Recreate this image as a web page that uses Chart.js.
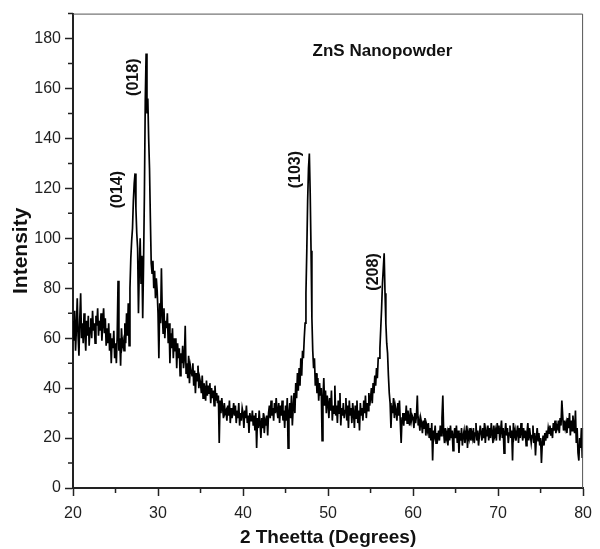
<!DOCTYPE html>
<html>
<head>
<meta charset="utf-8">
<script src="https://cdn.jsdelivr.net/npm/chart.js@4.4.1/dist/chart.umd.min.js"></script>
<style>
  html, body { margin: 0; padding: 0; background: #fff; }
  #wrap { width: 600px; height: 549px; }
</style>
</head>
<body>
<div id="wrap"><canvas id="xrdChart" width="600" height="549"></canvas></div>
<script>
// 2 theta grid: 20.0 .. 80.0 deg, step 0.1
var thetaStart = 20;
var thetaStep = 0.1;

// Intensity, one row per degree (x.0 .. x.9)
var intensity = [
  67,59,71,55,64,76,61,53,68,78,   // 20
  60,66,58,70,62,55,67,61,69,57,   // 21
  64,68,60,71,63,66,58,69,65,72,   // 22
  61,67,63,70,59,66,72,62,68,57,   // 23
  64,58,66,55,62,50,60,56,63,52,   // 24
  58,50,61,83,55,60,49,64,57,59,   // 25
  55,66,58,70,61,74,57,80,92,99,   // 26
  104,115,122,126,112,102,96,70,88,100, // 27
  82,93,68,90,118,155,174,150,156,140,  // 28
  128,108,90,86,91,80,87,76,84,79, // 29
  70,52,74,66,88,70,62,72,60,67,   // 30
  64,70,58,66,50,62,56,64,52,60,   // 31
  55,60,48,58,52,56,45,54,50,57,   // 32
  48,52,65,46,50,44,53,42,49,47,   // 33
  45,50,41,47,38,46,43,49,40,44,   // 34
  42,38,45,36,42,40,35,43,37,41,   // 35
  38,42,34,40,36,39,33,41,35,38,   // 36
  34,37,18,35,30,36,32,28,34,30,   // 37
  31,27,33,29,35,26,32,28,30,34,   // 38
  29,33,26,31,28,34,25,30,27,32,   // 39
  30,24,31,28,33,26,29,22,30,27,   // 40
  27,31,25,29,23,30,16,28,24,31,   // 41
  26,20,28,24,30,22,27,25,29,21,   // 42
  30,33,28,35,29,32,27,34,30,36,   // 43
  31,28,34,26,33,29,35,27,31,24,   // 44
  33,27,36,16,30,34,28,37,25,32,   // 45
  38,30,42,36,46,39,48,41,52,45,   // 46
  55,52,60,66,78,95,115,128,134,118, // 47
  95,68,55,48,52,41,46,38,44,35,   // 48
  42,37,40,19,36,44,33,39,30,37,   // 49
  34,28,36,31,39,27,33,30,41,29,   // 50
  33,26,35,30,38,25,32,29,34,28,   // 51
  31,36,27,33,24,35,29,32,26,34,   // 52
  30,24,33,28,35,26,31,23,34,29,   // 53
  32,27,35,30,37,28,34,31,38,33,   // 54
  36,40,34,42,38,45,41,48,44,52,   // 55
  52,56,64,72,82,88,94,78,66,58,   // 56
  54,45,38,34,24,33,30,36,28,33,   // 57
  31,27,34,29,35,26,18,28,30,25,   // 58
  30,27,33,26,31,28,25,32,27,29,   // 59
  28,24,30,26,29,37,25,27,23,28,   // 60
  26,22,27,24,28,21,25,23,26,20,   // 61
  24,19,26,11,23,21,25,18,22,20,   // 62
  23,19,25,21,28,37,22,18,24,20,   // 63
  22,17,24,19,25,20,23,15,21,24,   // 64
  20,25,18,23,14,22,19,24,17,21,   // 65
  23,18,21,25,16,22,20,24,19,22,   // 66
  20,24,18,22,26,19,23,17,21,25,   // 67
  22,19,24,20,26,18,23,21,25,19,   // 68
  24,20,26,22,18,25,21,23,19,26,   // 69
  22,25,19,23,27,20,24,14,22,26,   // 70
  21,24,18,22,25,20,23,11,26,21,   // 71
  23,19,22,25,18,24,20,26,22,19,   // 72
  24,20,23,17,22,26,19,24,21,18,   // 73
  21,25,18,22,13,20,24,19,22,17,   // 74
  20,10,18,21,17,22,19,23,20,24,   // 75
  22,25,21,24,20,26,23,27,22,25,   // 76
  24,27,22,28,25,35,29,23,27,24,   // 77
  26,22,28,24,30,21,27,23,29,25,   // 78
  22,31,18,24,14,11,20,16,24,12,   // 79
  24                               // 80
];

// peak indices and where their labels sit (data units, top of text)
var peakNames = ['(014)', '(018)', '(103)', '(208)'];
var peakLabelTheta = [25.28, 27.18, 46.22, 55.31];
var peakLabelTop = [127, 172, 135, 94];

var sampleName = 'ZnS Nanopowder';
var xTitle = '2 Theetta (Degrees)';
var yTitle = 'Intensity';

var points = [];
for (var i = 0; i < intensity.length; i++) {
  points.push({ x: thetaStart + i * thetaStep, y: intensity[i] });
}

var tickFont = { family: 'Liberation Sans', size: 16 };
var tickColor = '#222';

// frame, minor ticks and text labels
var extrasPlugin = {
  id: 'extras',
  afterDraw: function(chart) {
    var ctx = chart.ctx;
    var area = chart.chartArea;
    var xs = chart.scales.x;
    var ys = chart.scales.y;

    ctx.save();
    // top and right border
    ctx.strokeStyle = '#555';
    ctx.lineWidth = 1;
    ctx.beginPath();
    ctx.moveTo(area.left, area.top + 0.5);
    ctx.lineTo(area.right - 0.5, area.top + 0.5);
    ctx.lineTo(area.right - 0.5, area.bottom);
    ctx.stroke();

    // minor ticks
    ctx.strokeStyle = '#222';
    ctx.lineWidth = 1.5;
    ctx.beginPath();
    ys.ticks.forEach(function(t) {
      if (t.value % 20 !== 0) {
        var py = ys.getPixelForValue(t.value);
        ctx.moveTo(area.left - 5, py);
        ctx.lineTo(area.left, py);
      }
    });
    xs.ticks.forEach(function(t) {
      if (t.value % 10 !== 0) {
        var px = xs.getPixelForValue(t.value);
        ctx.moveTo(px, area.bottom);
        ctx.lineTo(px, area.bottom + 5);
      }
    });
    ctx.stroke();

    // peak labels, rotated
    ctx.fillStyle = '#111';
    ctx.font = 'bold 16px "Liberation Sans"';
    ctx.textBaseline = 'middle';
    ctx.textAlign = 'right';
    for (var k = 0; k < peakNames.length; k++) {
      ctx.save();
      ctx.translate(xs.getPixelForValue(peakLabelTheta[k]), ys.getPixelForValue(peakLabelTop[k]));
      ctx.rotate(-Math.PI / 2);
      ctx.fillText(peakNames[k], 0, 0);
      ctx.restore();
    }

    // sample name
    ctx.font = 'bold 17px "Liberation Sans"';
    ctx.textAlign = 'center';
    ctx.fillText(sampleName, xs.getPixelForValue(56.4), ys.getPixelForValue(175));
    ctx.restore();
  }
};

new Chart(document.getElementById('xrdChart').getContext('2d'), {
  type: 'line',
  data: {
    datasets: [{
      data: points,
      borderColor: '#000',
      borderWidth: 1.7,
      pointRadius: 0,
      tension: 0,
      fill: false
    }]
  },
  options: {
    responsive: false,
    animation: false,
    layout: { padding: { top: 13, right: 9, left: 0, bottom: 0 } },
    plugins: {
      legend: { display: false },
      tooltip: { enabled: false }
    },
    scales: {
      x: {
        type: 'linear',
        min: 20,
        max: 80,
        afterFit: function(scale) { scale.height = 61; },
        border: { color: '#222', width: 2 },
        grid: {
          drawOnChartArea: false,
          tickLength: 8,
          tickWidth: 1.5,
          tickColor: function(c) { return c.tick && c.tick.value % 10 === 0 ? '#222' : 'rgba(0,0,0,0)'; }
        },
        ticks: {
          stepSize: 5,
          autoSkip: false,
          maxRotation: 0,
          padding: 8,
          color: tickColor,
          font: tickFont,
          callback: function(v) { return v % 10 === 0 ? v : ''; }
        },
        title: {
          display: true,
          text: xTitle,
          color: '#111',
          font: { family: 'Liberation Sans', size: 19, weight: 'bold' },
          padding: { top: 2, bottom: 0 }
        }
      },
      y: {
        min: 0,
        max: 190,
        afterFit: function(scale) { scale.width = 73; },
        border: { color: '#222', width: 2 },
        grid: {
          drawOnChartArea: false,
          tickLength: 8,
          tickWidth: 1.5,
          tickColor: function(c) { return c.tick && c.tick.value % 20 === 0 ? '#222' : 'rgba(0,0,0,0)'; }
        },
        ticks: {
          stepSize: 10,
          autoSkip: false,
          padding: 4,
          color: tickColor,
          font: tickFont,
          callback: function(v) { return v % 20 === 0 ? v : ''; }
        },
        title: {
          display: true,
          text: yTitle,
          color: '#111',
          font: { family: 'Liberation Sans', size: 21, weight: 'bold' },
          padding: { top: 9, bottom: 4 }
        }
      }
    }
  },
  plugins: [extrasPlugin]
});
</script>
</body>
</html>
